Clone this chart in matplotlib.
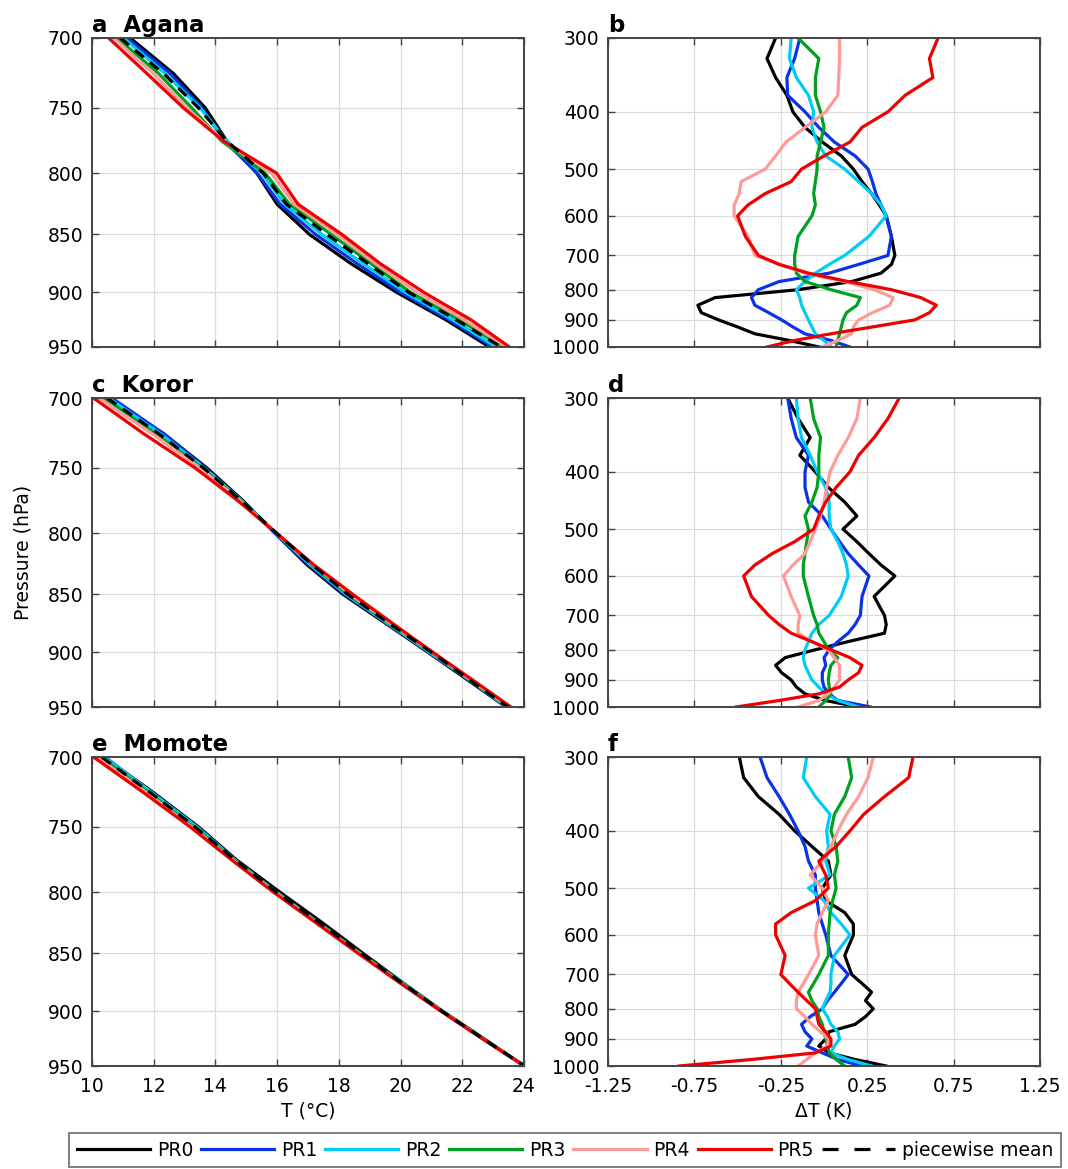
import numpy as np
import matplotlib
matplotlib.use('Agg')
import matplotlib.pyplot as plt
from matplotlib.lines import Line2D
from matplotlib.ticker import FixedLocator, NullLocator, FixedFormatter

plt.rcParams['font.family'] = ['DejaVu Sans']

# pressure levels (hPa) for the temperature profiles
p_t = [700, 725, 750, 775, 800, 825, 850, 875, 900, 925, 950]
# pressure levels (hPa) for the deviation profiles
p_d = [300, 325, 350, 375, 400, 425, 450, 475, 500, 525, 550, 575, 600, 650,
       700, 725, 750, 775, 800, 825, 850, 875, 900, 925, 950, 975, 1000]

names = ['PR0', 'PR1', 'PR2', 'PR3', 'PR4', 'PR5']
colors = ['#000000', '#0a32e6', '#00ccf5', '#00a020', '#ff9a9a', '#ee0000']

# --- Agana temperature (deg C)
t_agana = [
    [11.24, 12.64, 13.67, 14.37, 15.34, 16.00, 17.05, 18.40, 19.87, 21.48, 22.88],
    [11.13, 12.53, 13.56, 14.30, 15.35, 16.10, 17.25, 18.60, 20.00, 21.59, 22.99],
    [11.02, 12.37, 13.50, 14.37, 15.50, 16.25, 17.45, 18.80, 20.15, 21.70, 23.10],
    [10.81, 12.16, 13.23, 14.20, 15.61, 16.40, 17.75, 19.05, 20.32, 21.91, 23.32],
    [10.70, 11.99, 13.07, 14.26, 15.82, 16.55, 17.95, 19.20, 20.53, 22.08, 23.42],
    [10.54, 11.78, 12.96, 14.26, 15.98, 16.68, 18.10, 19.35, 20.75, 22.29, 23.53],
]
mean_agana = [10.92, 12.32, 13.45, 14.37, 15.55, 16.30, 17.62, 18.95, 20.26, 21.81, 23.26]

# --- Koror temperature
t_koror = [
    [10.43, 12.32, 13.72, 14.91, 15.93, 16.95, 18.14, 19.54, 20.89, 22.18, 23.42],
    [10.65, 12.32, 13.67, 14.85, 15.93, 17.01, 18.19, 19.60, 20.94, 22.22, 23.44],
    [10.54, 12.21, 13.63, 14.87, 15.96, 17.06, 18.25, 19.60, 20.94, 22.24, 23.45],
    [10.38, 12.05, 13.56, 14.83, 15.98, 17.12, 18.30, 19.67, 21.01, 22.26, 23.50],
    [10.22, 11.94, 13.50, 14.80, 15.98, 17.15, 18.38, 19.70, 21.03, 22.29, 23.53],
    [10.05, 11.67, 13.34, 14.74, 15.98, 17.17, 18.46, 19.76, 21.05, 22.34, 23.58],
]
mean_koror = [10.49, 12.16, 13.61, 14.85, 15.98, 17.12, 18.30, 19.65, 21.00, 22.24, 23.48]

# --- Momote temperature
t_momote = [
    [10.38, 11.99, 13.45, 14.69, 16.09, 17.49, 18.79, 20.08, 21.37, 22.72, 24.02],
    [10.43, 11.91, 13.34, 14.61, 15.96, 17.33, 18.68, 19.99, 21.32, 22.67, 24.00],
    [10.40, 11.94, 13.40, 14.64, 15.98, 17.36, 18.70, 20.06, 21.35, 22.69, 24.04],
    [10.29, 11.83, 13.29, 14.60, 15.96, 17.33, 18.70, 20.03, 21.34, 22.68, 24.02],
    [10.16, 11.76, 13.23, 14.56, 15.93, 17.30, 18.66, 19.99, 21.33, 22.67, 24.02],
    [10.05, 11.67, 13.18, 14.53, 15.88, 17.28, 18.63, 19.98, 21.32, 22.67, 24.02],
]
mean_momote = [10.32, 11.89, 13.34, 14.64, 15.98, 17.39, 18.73, 20.03, 21.35, 22.69, 24.02]

# --- deviations (K), Agana
d_agana = [
    [-0.28, -0.33, -0.28, -0.215, -0.18, -0.11, -0.01, 0.10, 0.17, 0.22, 0.275, 0.32, 0.36, 0.39,
     0.41, 0.39, 0.33, 0.16, -0.15, -0.63, -0.73, -0.71, -0.61, -0.50, -0.40, -0.20, -0.03],
    [-0.14, -0.17, -0.215, -0.21, -0.11, -0.03, 0.06, 0.18, 0.255, 0.28, 0.30, 0.33, 0.36, 0.39,
     0.37, 0.20, 0.03, -0.26, -0.38, -0.42, -0.40, -0.32, -0.245, -0.18, -0.11, 0.04, 0.15],
    [-0.19, -0.20, -0.16, -0.09, -0.06, -0.07, -0.04, 0.01, 0.12, 0.20, 0.275, 0.33, 0.36, 0.26,
     0.12, 0.03, -0.05, -0.11, -0.16, -0.14, -0.13, -0.11, -0.09, -0.07, -0.05, 0.00, 0.04],
    [-0.15, -0.03, -0.05, -0.05, -0.02, 0.00, -0.02, -0.04, -0.04, -0.05, -0.06, -0.05, -0.07, -0.15,
     -0.17, -0.17, -0.16, -0.11, 0.04, 0.21, 0.19, 0.13, 0.11, 0.10, 0.09, 0.08, 0.07],
    [0.09, 0.09, 0.085, 0.08, 0.01, -0.11, -0.22, -0.28, -0.34, -0.48, -0.49, -0.52, -0.52, -0.44,
     -0.40, -0.25, -0.11, 0.12, 0.29, 0.40, 0.38, 0.28, 0.20, 0.17, 0.16, 0.08, -0.01],
    [0.66, 0.61, 0.63, 0.47, 0.37, 0.22, 0.15, 0.00, -0.13, -0.19, -0.34, -0.44, -0.50, -0.455,
     -0.38, -0.26, -0.09, 0.14, 0.39, 0.56, 0.65, 0.61, 0.525, 0.28, 0.04, -0.17, -0.33],
]

# --- deviations (K), Koror
d_koror = [
    [-0.21, -0.15, -0.08, -0.14, -0.05, 0.025, 0.12, 0.19, 0.11, 0.19, 0.26, 0.33, 0.41, 0.29,
     0.35, 0.36, 0.35, 0.14, -0.05, -0.225, -0.28, -0.245, -0.19, -0.16, -0.11, 0.01, 0.20],
    [-0.21, -0.19, -0.16, -0.09, -0.11, -0.11, -0.09, -0.01, 0.04, 0.09, 0.14, 0.20, 0.26, 0.22,
     0.21, 0.18, 0.14, 0.08, 0.03, 0.00, 0.01, -0.01, -0.01, 0.00, 0.03, 0.08, 0.27],
    [-0.16, -0.15, -0.13, -0.08, -0.04, 0.01, 0.03, 0.03, 0.04, 0.08, 0.11, 0.13, 0.14, 0.10,
     0.03, -0.03, -0.07, -0.09, -0.11, -0.12, -0.11, -0.09, -0.07, -0.03, 0.01, 0.08, 0.20],
    [-0.08, -0.06, -0.02, -0.03, -0.03, -0.04, -0.07, -0.11, -0.09, -0.10, -0.11, -0.12, -0.12, -0.09,
     -0.06, -0.04, -0.03, 0.00, 0.025, 0.08, 0.04, 0.03, 0.025, 0.03, 0.04, 0.01, -0.03],
    [0.21, 0.19, 0.14, 0.08, 0.035, 0.015, 0.00, -0.02, -0.05, -0.08, -0.11, -0.18, -0.235, -0.19,
     -0.14, -0.15, -0.15, -0.07, 0.025, 0.06, 0.09, 0.09, 0.09, 0.06, 0.025, -0.03, -0.15],
    [0.435, 0.37, 0.29, 0.20, 0.15, 0.07, 0.01, -0.03, -0.06, -0.17, -0.30, -0.40, -0.465, -0.42,
     -0.32, -0.26, -0.19, -0.07, 0.04, 0.15, 0.22, 0.20, 0.14, 0.09, -0.03, -0.26, -0.51],
]

# --- deviations (K), Momote
d_momote = [
    [-0.49, -0.465, -0.38, -0.26, -0.17, -0.07, 0.025, 0.04, -0.01, 0.01, 0.12, 0.17, 0.17, 0.12,
     0.16, 0.22, 0.275, 0.24, 0.285, 0.24, 0.18, 0.03, 0.01, -0.03, 0.03, 0.18, 0.36],
    [-0.37, -0.33, -0.26, -0.20, -0.15, -0.11, -0.09, -0.05, -0.05, -0.04, -0.03, -0.01, 0.01, 0.04,
     0.14, 0.10, 0.06, 0.02, -0.01, -0.08, -0.13, -0.11, -0.07, -0.10, -0.01, 0.08, 0.22],
    [-0.10, -0.12, -0.05, 0.035, 0.015, 0.025, 0.01, 0.035, -0.09, 0.00, 0.04, 0.10, 0.15, 0.06,
     0.04, 0.04, 0.035, 0.01, -0.01, 0.02, 0.04, 0.08, 0.09, 0.06, 0.04, 0.14, 0.275],
    [0.14, 0.16, 0.12, 0.06, 0.04, 0.07, 0.08, 0.06, 0.07, 0.05, 0.035, 0.03, 0.025, 0.025,
     -0.03, -0.06, -0.09, -0.07, -0.04, -0.03, -0.01, 0.00, 0.01, 0.02, 0.03, 0.07, 0.12],
    [0.285, 0.255, 0.20, 0.13, 0.08, 0.04, -0.01, -0.08, -0.01, 0.025, -0.01, -0.04, -0.05, -0.03,
     -0.09, -0.12, -0.15, -0.16, -0.16, -0.11, -0.07, -0.02, 0.025, 0.02, -0.05, -0.10, -0.15],
    [0.515, 0.49, 0.35, 0.23, 0.15, 0.07, -0.03, 0.01, 0.025, -0.05, -0.19, -0.28, -0.28, -0.225,
     -0.25, -0.20, -0.15, -0.10, -0.05, -0.04, -0.03, 0.01, 0.04, 0.04, -0.05, -0.42, -0.84],
]

stations = ['Agana', 'Koror', 'Momote']
letters_left = ['a', 'c', 'e']
letters_right = ['b', 'd', 'f']
temps = [t_agana, t_koror, t_momote]
means = [mean_agana, mean_koror, mean_momote]
devs = [d_agana, d_koror, d_momote]

t_ticks = [10, 12, 14, 16, 18, 20, 22, 24]
p_ticks_t = [700, 750, 800, 850, 900, 950]
d_ticks = [-1.25, -0.75, -0.25, 0.25, 0.75, 1.25]
d_ticklabels = ['-1.25', '-0.75', '-0.25', '0.25', '0.75', '1.25']
p_ticks_d = [300, 400, 500, 600, 700, 800, 900, 1000]

FS = 13.5
LW = 2.3
fig = plt.figure(figsize=(10.68, 11.69), dpi=100)

bottoms = [0.7032, 0.3952, 0.0881]
h = 0.2643
w = 0.4045


def style(ax):
    ax.grid(True, color='#dcdcdc', linewidth=0.9)
    ax.set_axisbelow(True)
    for s in ax.spines.values():
        s.set_color('#444444')
        s.set_linewidth(1.4)
    ax.tick_params(direction='in', top=True, right=True, length=5,
                   width=1.0, color='#444444', labelsize=FS)
    ax.tick_params(axis='y', pad=6)
    ax.tick_params(axis='x', pad=8)
    ax.yaxis.set_minor_locator(NullLocator())
    ax.xaxis.set_minor_locator(NullLocator())


for i in range(3):
    axl = fig.add_axes([0.0861, bottoms[i], w, h])
    for k in range(6):
        axl.plot(temps[i][k], p_t, color=colors[k], lw=LW)
    axl.plot(means[i], p_t, color='k', lw=LW, ls=(0, (3.5, 2.5)))
    axl.set_yscale('log')
    axl.set_ylim(950, 700)
    axl.set_xlim(10, 24)
    axl.yaxis.set_major_locator(FixedLocator(p_ticks_t))
    axl.yaxis.set_major_formatter(FixedFormatter([str(v) for v in p_ticks_t]))
    axl.xaxis.set_major_locator(FixedLocator(t_ticks))
    style(axl)
    if i < 2:
        axl.set_xticklabels([])
    else:
        axl.set_xticklabels([str(v) for v in t_ticks])
        axl.set_xlabel('T (°C)', fontsize=FS, labelpad=4)
    axl.text(0.0, 1.004, letters_left[i] + '  ' + stations[i], transform=axl.transAxes,
             fontsize=16.5, fontweight='bold', ha='left', va='bottom')
    if i == 1:
        axl.set_ylabel('Pressure (hPa)', fontsize=FS, labelpad=11)

    axr = fig.add_axes([0.5693, bottoms[i], w, h])
    for k in range(6):
        axr.plot(devs[i][k], p_d, color=colors[k], lw=LW)
    axr.set_yscale('log')
    axr.set_ylim(1000, 300)
    axr.set_xlim(-1.25, 1.25)
    axr.yaxis.set_major_locator(FixedLocator(p_ticks_d))
    axr.yaxis.set_major_formatter(FixedFormatter([str(v) for v in p_ticks_d]))
    axr.xaxis.set_major_locator(FixedLocator(d_ticks))
    style(axr)
    if i < 2:
        axr.set_xticklabels([])
    else:
        axr.set_xticklabels(d_ticklabels)
        axr.set_xlabel('ΔT (K)', fontsize=FS, labelpad=4)
    axr.text(0.0, 1.004, letters_right[i], transform=axr.transAxes,
             fontsize=16.5, fontweight='bold', ha='left', va='bottom')

handles = [Line2D([], [], color=c, lw=LW) for c in colors]
handles.append(Line2D([], [], color='k', lw=LW, ls=(0, (5, 5))))
labels = names + ['piecewise mean']
leg = fig.legend(handles, labels, loc='center', bbox_to_anchor=(0.529, 0.0162), ncol=7,
                 fontsize=FS, frameon=True, fancybox=False, handlelength=3.9,
                 handletextpad=0.36, columnspacing=0.42, borderpad=0.4,
                 borderaxespad=0.0)
leg.get_frame().set_edgecolor('#444444')
leg.get_frame().set_linewidth(1.2)

fig.savefig('out.png', dpi=100)
